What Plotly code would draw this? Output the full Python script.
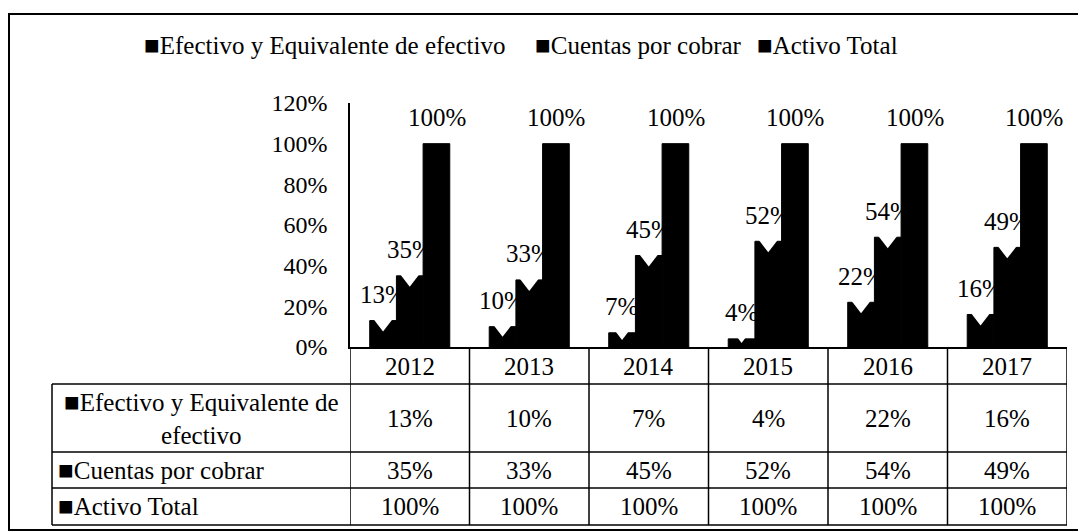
import plotly.graph_objects as go

years = ["2012", "2013", "2014", "2015", "2016", "2017"]
series_names = ["Efectivo y Equivalente de efectivo", "Cuentas por cobrar", "Activo Total"]
efectivo = [0.13, 0.10, 0.07, 0.04, 0.22, 0.16]
cuentas = [0.35, 0.33, 0.45, 0.52, 0.54, 0.49]
activo = [1.00, 1.00, 1.00, 1.00, 1.00, 1.00]
y_ticks = [0, 0.2, 0.4, 0.6, 0.8, 1.0, 1.2]

FONT = "Liberation Serif"
FS = 25
BLACK = "#000000"

# page offset (body margin) and plot area in screen pixels
OFF = 8
L, R, T, B = 350, 1067, 103, 347
W_FIG, H_FIG = 1086, 532
PW, PH = R - L, B - T


def px(x):
    return (x - L) / PW


def py(y):
    return (B - y) / PH


series = [efectivo, cuentas, activo]
groups = ["g0", "g1", "g2"]
fig = go.Figure()
for name, vals, g in zip(series_names, series, groups):
    fig.add_trace(go.Bar(
        x=years, y=vals, name=name, showlegend=False, offsetgroup=g,
        marker=dict(color=BLACK, line=dict(color=BLACK, width=1)),
    ))
# white notch texture at the top of the bars (as in the scanned pattern fill)
for vals, g in zip(series[:2], groups[:2]):
    sizes = [min(22, v * PH / 1.2) for v in vals]
    fig.add_trace(go.Scatter(
        x=years, y=vals, mode="markers", offsetgroup=g, showlegend=False,
        hoverinfo="skip",
        marker=dict(symbol="triangle-down", color="#ffffff", opacity=1, size=sizes,
                    line=dict(width=0)),
    ))

font = dict(family=FONT, size=FS, color=BLACK)
annotations = []
# data labels above bars
shifts = [-27, 0, 27]
for vals, xs in zip(series, shifts):
    for i, v in enumerate(vals):
        annotations.append(dict(
            x=i, y=v, xref="x", yref="y", text=f"{v:.0%}", showarrow=False,
            xanchor="center", xshift=xs, yshift=26, font=font,
        ))

# legend (drawn as text)
mark = "<span style='font-size:26px'>■</span>"
for name, lx in zip(series_names, [142, 533, 755]):
    annotations.append(dict(
        x=px(lx), y=py(45), xref="paper", yref="paper", xanchor="left", yanchor="middle",
        text=mark + name, showarrow=False, font=font,
    ))

# table: header row with years
for i, yr in enumerate(years):
    annotations.append(dict(
        x=i, y=py(366), xref="x", yref="paper", text=yr, showarrow=False, font=font,
        xanchor="center", yanchor="middle",
    ))

row_bounds = [384, 452, 488, 525]
row_mid = [(384 + 452) / 2, (452 + 488) / 2, (488 + 525) / 2]
for vals, ym in zip(series, row_mid):
    for i, v in enumerate(vals):
        annotations.append(dict(
            x=i, y=py(ym), xref="x", yref="paper", text=f"{v:.0%}", showarrow=False,
            font=font, xanchor="center", yanchor="middle",
        ))

annotations.append(dict(
    x=px(201), y=py(row_mid[0]), xref="paper", yref="paper", xanchor="center",
    yanchor="middle", text=mark + "Efectivo y Equivalente de<br>efectivo",
    showarrow=False, align="center", font=font,
))
for name, ym in zip(series_names[1:], row_mid[1:]):
    annotations.append(dict(
        x=px(56), y=py(ym), xref="paper", yref="paper", xanchor="left", yanchor="middle",
        text=mark + name, showarrow=False, font=font,
    ))

shapes = []
line = dict(color=BLACK, width=1.5)
for i in range(len(years) + 1):
    shapes.append(dict(type="line", xref="x", yref="paper", x0=i - 0.5, x1=i - 0.5,
                       y0=py(347), y1=py(525), line=line))
for yb in row_bounds:
    shapes.append(dict(type="line", xref="paper", yref="paper", x0=px(52), x1=px(1067),
                       y0=py(yb), y1=py(yb), line=line))
shapes.append(dict(type="line", xref="paper", yref="paper", x0=px(52), x1=px(52),
                   y0=py(384), y1=py(525), line=line))
# outer border
shapes.append(dict(type="rect", xref="paper", yref="paper", x0=px(9), x1=px(1090),
                   y0=py(530), y1=py(14), line=dict(color=BLACK, width=2)))

fig.update_layout(
    width=W_FIG, height=H_FIG,
    margin=dict(l=L - OFF, r=W_FIG - R + OFF, t=T - OFF, b=H_FIG - B + OFF,
                autoexpand=False),
    paper_bgcolor="white", plot_bgcolor="white",
    barmode="group", bargap=0.33, bargroupgap=0,
    scattermode="group", scattergap=0.33,
    font=font,
    showlegend=False,
    xaxis=dict(type="category", range=[-0.5, 5.5], showline=True, linecolor=BLACK,
               linewidth=1.5, showgrid=False, ticks="", showticklabels=False,
               automargin=False),
    yaxis=dict(range=[0, 1.2], tickvals=y_ticks, tickformat=".0%", showline=True,
               linecolor=BLACK, linewidth=1.5, showgrid=False, zeroline=False, ticks="",
               ticklabelstandoff=16, automargin=False,
               tickfont=dict(family=FONT, size=24, color=BLACK)),
    annotations=annotations,
    shapes=shapes,
)

fig.write_html("out.html")
